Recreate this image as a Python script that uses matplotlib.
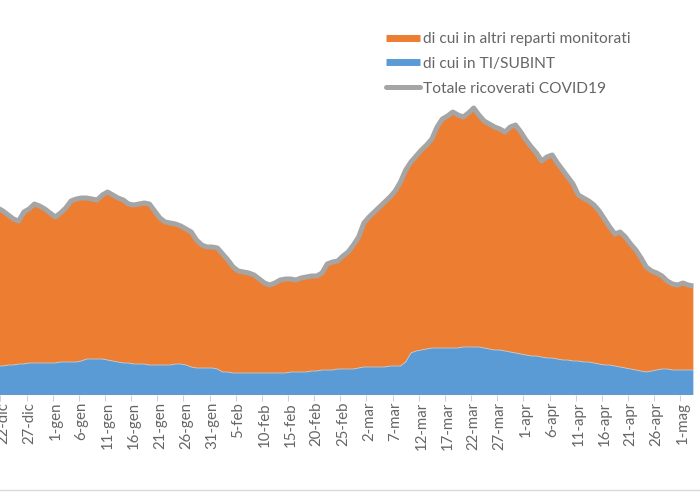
import numpy as np
import pandas as pd
import matplotlib
matplotlib.use('Agg')
import matplotlib.pyplot as plt
from matplotlib.lines import Line2D

plt.rcParams['font.family'] = ['Lato', 'DejaVu Sans']

dates = pd.date_range('2020-12-20', '2021-05-03', freq='D')

totale = [
    190, 187, 184, 180, 176, 174, 183, 186, 191, 189,
    186, 182, 178, 182, 187, 194, 196, 197, 197, 196,
    195, 200, 203, 200, 197, 195, 191, 190, 191, 192,
    191, 184, 177, 173, 172, 171, 169, 166, 163, 155,
    150, 148, 148, 147, 141, 135, 128, 124, 123, 122,
    120, 116, 112, 110, 112, 115, 116, 116, 115, 117,
    118, 119, 119, 122, 131, 133, 134, 139, 143, 150,
    158, 172, 178, 183, 188, 193, 198, 204, 213, 225,
    233, 239, 245, 250, 256, 268, 276, 279, 283, 280,
    278, 282, 287, 280, 274, 271, 268, 266, 263, 268,
    270, 263, 255, 248, 242, 234, 238, 240, 232, 225,
    218, 211, 200, 197, 194, 190, 184, 176, 168, 161,
    163, 158, 151, 145, 137, 128, 124, 122, 119, 114,
    111, 110, 112, 110, 109,
]

ti_subint = [
    29, 29, 29, 30, 30, 31, 31, 32, 32, 32,
    32, 32, 32, 33, 33, 33, 33, 34, 36, 36,
    36, 36, 35, 34, 33, 32, 32, 31, 31, 31,
    30, 30, 30, 30, 30, 31, 31, 30, 28, 27,
    27, 27, 27, 26, 23, 23, 22, 22, 22, 22,
    22, 22, 22, 22, 22, 22, 22, 23, 23, 23,
    23, 24, 24, 25, 25, 25, 26, 26, 26, 26,
    27, 28, 28, 28, 28, 28, 29, 29, 29, 33,
    42, 44, 45, 46, 47, 47, 47, 47, 47, 47,
    48, 48, 48, 48, 47, 46, 45, 45, 44, 43,
    42, 41, 40, 39, 39, 38, 37, 37, 36, 35,
    35, 34, 34, 33, 33, 32, 31, 30, 30, 29,
    28, 27, 26, 25, 24, 23, 24, 25, 26, 26,
    25, 25, 25, 25, 25,
]

tick_labels = ['22-dic', '27-dic', '1-gen', '6-gen', '11-gen', '16-gen', '21-gen',
               '26-gen', '31-gen', '5-feb', '10-feb', '15-feb', '20-feb', '25-feb',
               '2-mar', '7-mar', '12-mar', '17-mar', '22-mar', '27-mar', '1-apr',
               '6-apr', '11-apr', '16-apr', '21-apr', '26-apr', '1-mag']
tick_dates = pd.date_range('2020-12-22', '2021-05-01', freq='5D')

n = min(len(dates), len(totale), len(ti_subint))
x = np.arange(n)
tot = np.array(totale[:n], dtype=float)
ti = np.array(ti_subint[:n], dtype=float)

ORANGE = '#ED7D31'
BLUE = '#5B9BD5'
GREY = '#A5A5A5'
TXT = '#666666'

fig = plt.figure(figsize=(7.0, 4.93), dpi=100)
ax = fig.add_axes([0.0, 98 / 493, 1.0, 395 / 493])

ax.fill_between(x, 0, ti, color=BLUE, lw=0, zorder=2)
ax.fill_between(x, ti, tot, color=ORANGE, lw=0, zorder=2)
ax.plot(x, ti, color='#C8C8C8', lw=0.6, zorder=3)
ax.plot(x, tot, color=GREY, lw=3.6, solid_joinstyle='round',
        solid_capstyle='butt', zorder=4)

ax.set_xlim(1.43, 135.27)
ax.set_ylim(0, 395)

tick_pos = dates.get_indexer(tick_dates)
ax.set_xticks(tick_pos)
ax.set_xticklabels(tick_labels, rotation=90, color=TXT, fontsize=10.8)
ax.tick_params(axis='x', which='major', length=0, pad=5)
ax.set_xticks(tick_pos - 0.5, minor=True)
ax.tick_params(axis='x', which='minor', length=4, color='#D0D0D0', width=0.8)
ax.set_yticks([])
for s in ax.spines.values():
    s.set_visible(False)
ax.patch.set_alpha(0)

handles = [
    Line2D([], [], color=ORANGE, lw=5, solid_capstyle='butt'),
    Line2D([], [], color=BLUE, lw=5, solid_capstyle='butt'),
    Line2D([], [], color=GREY, lw=3.6, solid_capstyle='round'),
]
labels = ['di cui in altri reparti monitorati', 'di cui in TI/SUBINT',
          'Totale ricoverati COVID19']
leg = fig.legend(handles, labels, loc='upper left',
                 bbox_to_anchor=(386 / 700, 1 - 32 / 493),
                 frameon=False, fontsize=11.2, labelcolor=TXT,
                 handlelength=2.2, handletextpad=0.2, labelspacing=0.7,
                 borderpad=0, borderaxespad=0)

fig.add_artist(Line2D([0, 1], [1 - 490 / 493] * 2, transform=fig.transFigure,
                      color='#D9D9D9', lw=1))

fig.savefig('out.png', dpi=100)
